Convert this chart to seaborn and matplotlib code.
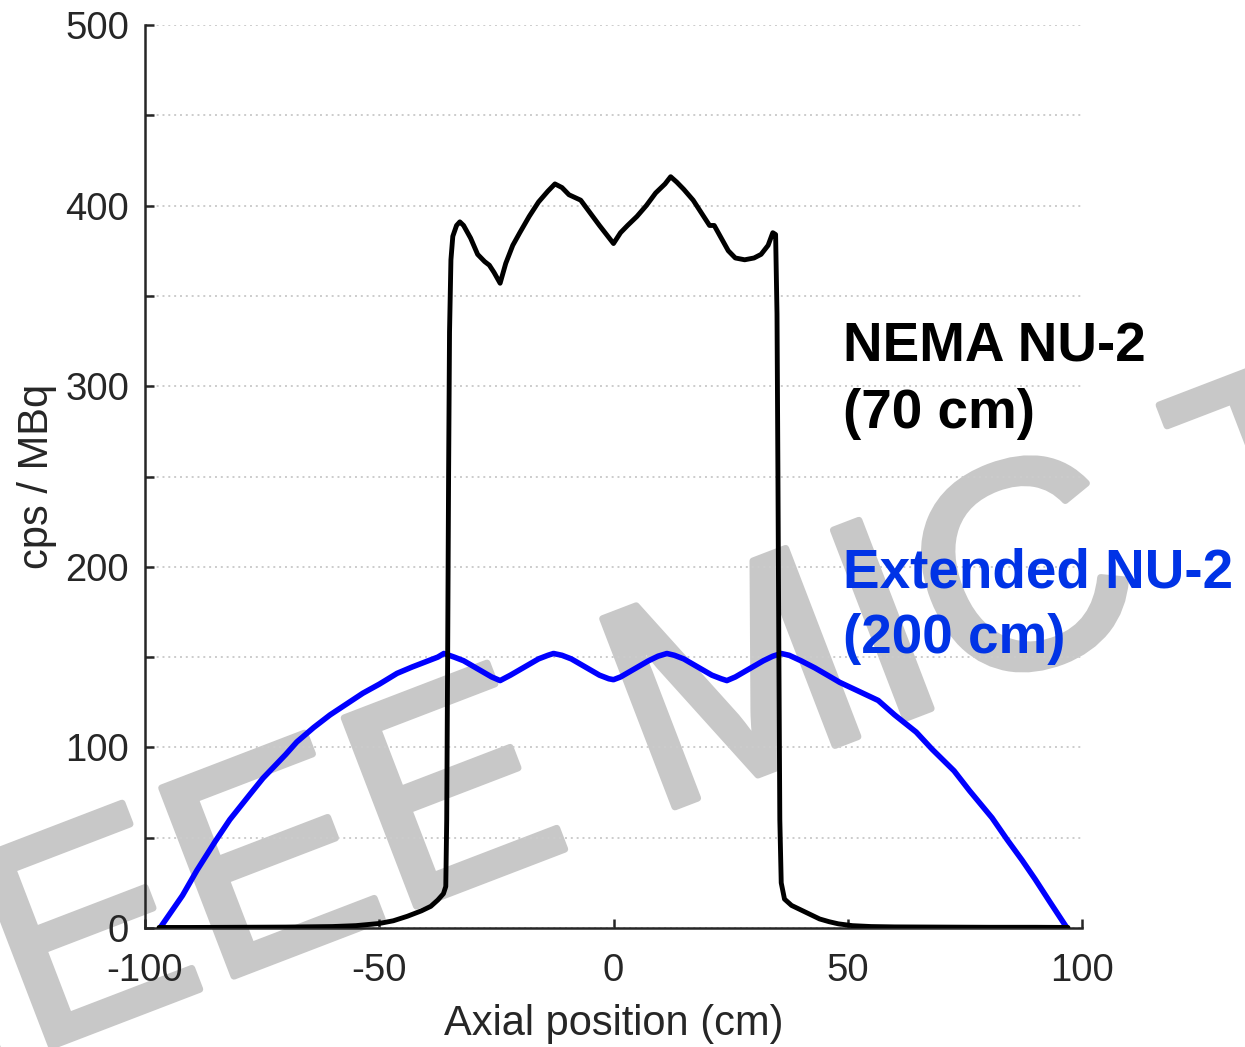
import numpy as np
import pandas as pd
import matplotlib
matplotlib.use("Agg")
import matplotlib.pyplot as plt
import matplotlib.patheffects as pe
import seaborn as sns

# ---------------- data ----------------
nema_x = [-97, -90, -80, -70, -60, -55, -50, -47, -44, -41, -39, -37.5, -36.3, -35.8,
          -35.6, -35.4, -35.2, -35.0, -34.7, -34.3, -33.5, -32.8, -32, -30.5, -29, -27.5,
          -26.5, -25.5, -24.2, -23, -21.5, -20, -18, -16, -14, -12.5, -11, -9.5, -7, -5,
          -3, -1.5, 0, 1.5, 3, 5, 7, 9, 11, 12.2, 13.5, 15, 17, 19, 20.5, 21.5, 23, 24.5,
          26, 28, 30, 31.5, 33, 34, 34.6, 34.9, 35.1, 35.3, 35.5, 35.8, 36.5, 38, 40, 42,
          44, 46, 48, 51, 55, 60, 70, 80, 90, 97]
nema_y = [0.3, 0.3, 0.4, 0.5, 0.8, 1.3, 2.5, 4, 6.5, 9.5, 12, 15.5, 19, 23,
          60, 150, 250, 330, 370, 383, 389, 391, 389, 382, 373, 369,
          367, 363, 357, 368, 378, 385, 394, 402, 408, 412, 410, 406, 403, 396,
          389, 384, 379, 385, 389, 394, 400, 407, 412, 416, 413, 409, 403, 395, 389, 389, 382, 375,
          371, 370, 371, 373, 378, 385, 384, 340, 250, 150, 60, 25, 16, 12.5, 10, 7.5,
          5, 3.5, 2.3, 1.3, 0.8, 0.6, 0.5, 0.4, 0.4, 0.3]

ext_x = [-96.8, -92, -88.9, -85, -81.9, -77.6, -74.8, -70, -67.6, -64, -60.5, -57, -53.5,
         -50, -46.2, -43, -39.5, -37.5, -36.2, -34, -32, -30, -28, -26, -24.2, -22, -20,
         -18, -16, -14, -12.8, -11, -9, -7, -5, -3, -1, 0, 1.5, 3.5, 5.5, 7.5, 9.5, 11.4,
         13, 15, 17, 19, 21, 23, 24.2, 26, 28, 30, 32, 34, 35.8, 37.5, 40, 43, 46, 48.3,
         52, 56.5, 60, 64.6, 68, 72.7, 76, 80.8, 84, 87.2, 90, 93, 96.8]
ext_y = [0, 18, 32, 48, 60, 74, 83, 96, 103, 111, 118, 124, 130,
         135, 141, 144.5, 148, 150, 152, 150, 148, 145, 142, 139, 137, 140, 143,
         146, 149, 151, 152, 151, 149, 146, 143, 140, 138, 137.5, 139, 142, 145, 148, 150.5, 152,
         151, 149, 146, 143, 140, 138, 137, 139, 142, 145, 148, 150.5, 152, 151, 148, 144, 139.5, 136,
         131.5, 126, 118, 108.5, 99, 87, 76, 61, 49, 37.6, 27, 15, 0]

x_ticks = [-100, -50, 0, 50, 100]
y_ticks = [0, 50, 100, 150, 200, 250, 300, 350, 400, 450, 500]
y_tick_labels = ["0", "", "100", "", "200", "", "300", "", "400", "", "500"]

label_nema = ["NEMA NU-2", "(70 cm)"]
label_ext = ["Extended NU-2", "(200 cm)"]
watermark = "IEEE MIC T"

# ---------------- style ----------------
sns.set_style("ticks")
plt.rcParams["font.family"] = ["Liberation Sans", "DejaVu Sans"]
dark = "#262626"
wm_gray = "#c8c8c8"

W, H = 1245, 1047
fig = plt.figure(figsize=(W / 100, H / 100), dpi=100, facecolor="white")
ax = fig.add_axes([145 / W, 1 - 928 / H, (1082 - 145) / W, (928 - 25) / H])
ax.patch.set_alpha(0.0)

df_nema = pd.DataFrame({"x": nema_x, "y": nema_y})
df_ext = pd.DataFrame({"x": ext_x, "y": ext_y})
sns.lineplot(data=df_ext, x="x", y="y", color="#0000FF", lw=4.0, estimator=None,
             sort=False, ax=ax, zorder=3)
sns.lineplot(data=df_nema, x="x", y="y", color="black", lw=3.5, estimator=None,
             sort=False, ax=ax, zorder=4)

ax.set_xlim(-100, 100)
ax.set_ylim(0, 500)
ax.set_xticks(x_ticks)
ax.set_xticklabels([str(v) for v in x_ticks])
ax.set_yticks(y_ticks)
ax.set_yticklabels(y_tick_labels)

for s in ["top", "right"]:
    ax.spines[s].set_visible(False)
for s in ["left", "bottom"]:
    ax.spines[s].set_color(dark)
    ax.spines[s].set_linewidth(1.8)

ax.tick_params(axis="both", direction="in", length=6.5, width=1.8, color=dark,
               labelcolor=dark, labelsize=27.5)
ax.tick_params(axis="y", pad=11.5)
ax.tick_params(axis="x", pad=18)

ax.yaxis.grid(True, color="#cccccc", lw=1.4, ls=(0, (1, 2)))
ax.xaxis.grid(False)
ax.set_axisbelow(True)

ax.set_xlabel("Axial position (cm)", fontsize=30, color=dark)
ax.set_ylabel("cps / MBq", fontsize=30, color=dark)
ax.xaxis.set_label_coords(0.5, -0.084)
ax.yaxis.set_label_coords(-0.094, 0.5)

# annotations
ax.text(49, 313.4, label_nema[0], fontsize=39.5, fontweight="bold", color="black",
        va="baseline", ha="left")
ax.text(49, 276.9, label_nema[1], fontsize=39.5, fontweight="bold", color="black",
        va="baseline", ha="left")
ax.text(49, 188.3, label_ext[0], fontsize=39.5, fontweight="bold", color="#0033E6",
        va="baseline", ha="left")
ax.text(49, 152.3, label_ext[1], fontsize=39.5, fontweight="bold", color="#0033E6",
        va="baseline", ha="left")

# watermark (drawn beneath the axes content)
fig.text(-47 / W, 1 - 1084 / H, watermark, fontsize=211, fontweight="normal",
         color=wm_gray, rotation=21, rotation_mode="anchor",
         ha="left", va="baseline", zorder=-1,
         path_effects=[pe.withStroke(linewidth=5, foreground=wm_gray)])

fig.savefig("out.png", dpi=100, facecolor="white")
